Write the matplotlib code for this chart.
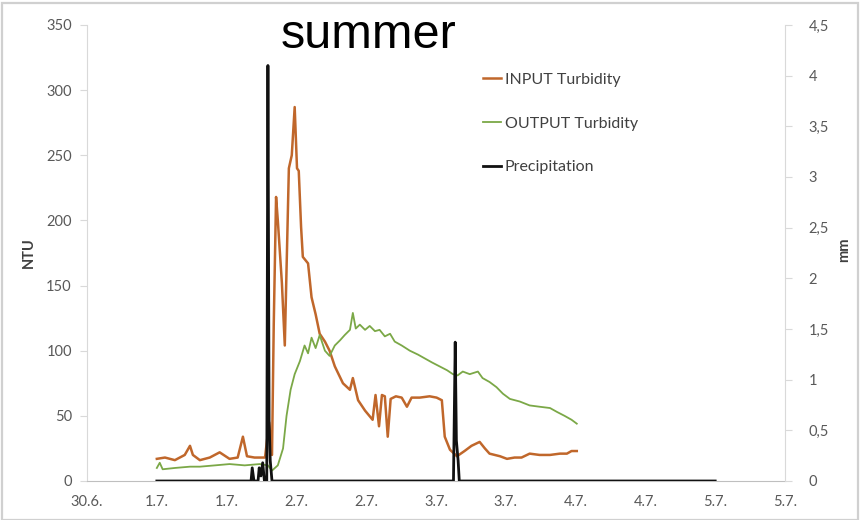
import matplotlib
matplotlib.use("Agg")
import matplotlib.pyplot as plt
from matplotlib.patches import Rectangle

# Time axis: hours after 1.7. 00:00
input_hours = [0, 1.4, 3.1, 4.8, 5.7, 6.2, 7.4, 9.1, 10.8, 12.5, 13.9, 14.8, 15.5, 16.8,
               18.6, 19.3, 19.8, 20.1, 20.5, 20.8, 21.5, 22.0, 22.7, 23.2, 23.7, 24.1,
               24.4, 24.8, 25.1, 26.0, 26.6, 27.3, 28.0, 28.9, 29.7, 30.6, 32.0, 33.2,
               33.7, 34.6, 35.8, 37.1, 37.6, 38.2, 38.7, 39.2, 39.7, 40.2, 41.1, 42.1,
               43.0, 43.8, 45.2, 46.9, 48.1, 49.0, 49.5, 50.4, 51.6, 52.9, 54.1, 55.5,
               56.4, 57.2, 59.0, 60.2, 61.5, 62.7, 64.1, 65.8, 67.6, 69.3, 70.5, 71.3, 72.2]
input_ntu = [17, 18, 16, 20, 27, 20, 16, 18, 22, 17, 18, 34, 19, 18,
             18, 45, 20, 120, 218, 200, 152, 104, 240, 250, 287, 240,
             238, 195, 172, 167, 141, 128, 113, 107, 100, 88, 75, 70,
             79, 62, 54, 47, 66, 42, 66, 65, 34, 63, 65, 64,
             57, 64, 64, 65, 64, 62, 34, 24, 19, 23, 27, 30,
             25, 21, 19, 17, 18, 18, 21, 20, 20, 21, 21, 23, 23]

output_hours = [0, 0.5, 1.0, 3.1, 5.7, 7.4, 10.0, 12.5, 15.1, 17.7, 19.1, 19.8, 20.8,
                21.7, 22.3, 23.0, 23.7, 24.6, 25.4, 26.0, 26.6, 27.3, 28.0, 28.9, 29.7,
                30.6, 31.5, 32.3, 33.2, 33.7, 34.2, 34.9, 35.8, 36.6, 37.5, 38.3, 39.2,
                40.1, 40.9, 42.1, 43.5, 44.9, 46.1, 47.3, 48.6, 49.9, 50.9, 51.7, 52.6,
                53.8, 55.2, 56.0, 57.2, 58.4, 59.5, 60.7, 62.4, 64.1, 65.8, 67.6, 68.8,
                70.1, 71.3, 72.2]
output_ntu = [10, 14, 9, 10, 11, 11, 12, 13, 12, 13, 12, 8, 12,
              25, 50, 70, 82, 92, 104, 98, 110, 102, 112, 100, 96,
              104, 108, 112, 116, 129, 117, 120, 116, 119, 115, 116, 111,
              113, 107, 104, 100, 97, 94, 91, 88, 85, 82, 81, 84,
              82, 84, 79, 76, 72, 67, 63, 61, 58, 57, 56, 53,
              50, 47, 44]

precip_hours = [0, 16.2, 16.4, 16.7, 17.4, 17.6, 17.9, 18.2, 18.5, 18.9, 19.1, 19.3,
                19.5, 19.8, 51.0, 51.3, 51.5, 51.8, 52.0, 96]
precip_mm = [0, 0, 0.13, 0, 0, 0.13, 0.05, 0.18, 0, 0, 4.1, 0.6,
             0.2, 0, 0, 1.37, 0.4, 0.2, 0, 0]

x_ticks = [-12, 0, 12, 24, 36, 48, 60, 72, 84, 96, 108]
x_labels = ["30.6.", "1.7.", "1.7.", "2.7.", "2.7.", "3.7.", "3.7.", "4.7.", "4.7.", "5.7.", "5.7."]
ntu_ticks = [0, 50, 100, 150, 200, 250, 300, 350]
mm_ticks = [0, 0.5, 1, 1.5, 2, 2.5, 3, 3.5, 4, 4.5]

plt.rcParams["font.family"] = ["Lato", "DejaVu Sans"]
label_color = "#595959"
axis_color = "#D9D9D9"

fig = plt.figure(figsize=(8.6, 5.2), dpi=100)
fig.patch.set_facecolor("white")
fig.patches.append(Rectangle((0.002, 0.0), 0.996, 0.994, transform=fig.transFigure,
                             fill=False, edgecolor="#D0D0D0", linewidth=1.6))

ax = fig.add_axes([0.1012, 0.075, 0.8116, 0.877])
ax2 = ax.twinx()

l1, = ax.plot(input_hours, input_ntu, color="#C0672B", linewidth=1.8, label="INPUT Turbidity")
l2, = ax.plot(output_hours, output_ntu, color="#7BA847", linewidth=1.3, label="OUTPUT Turbidity")
l3, = ax2.plot(precip_hours, precip_mm, color="#111111", linewidth=2.0, label="Precipitation")

ax.set_xlim(-12, 108)
ax.set_ylim(0, 350)
ax2.set_ylim(0, 4.5)

ax.set_xticks(x_ticks)
ax.set_xticklabels(x_labels)
ax.set_yticks(ntu_ticks)
ax.set_yticklabels([str(v) for v in ntu_ticks])
ax2.set_yticks(mm_ticks)
ax2.set_yticklabels([("%g" % v).replace(".", ",") for v in mm_ticks])

for a in (ax, ax2):
    for s in a.spines.values():
        s.set_visible(False)
ax.spines["left"].set_visible(True)
ax.spines["left"].set_color(axis_color)
ax.spines["bottom"].set_visible(True)
ax.spines["bottom"].set_color("#BFBFBF")
ax2.spines["right"].set_visible(True)
ax2.spines["right"].set_color(axis_color)

ax.tick_params(axis="x", length=0, pad=10, labelsize=10.5, labelcolor=label_color)
ax.tick_params(axis="y", length=5, color=axis_color, pad=6, labelsize=10.5, labelcolor=label_color)
ax2.tick_params(axis="y", length=5, color=axis_color, pad=12, labelsize=10.5, labelcolor=label_color)

fig.text(0.033, 0.515, "NTU", rotation=90, ha="center", va="center",
         fontsize=10.5, fontweight="bold", color="#404040")
fig.text(0.982, 0.52, "mm", rotation=90, ha="center", va="center",
         fontsize=10.5, fontweight="bold", color="#404040")

fig.text(0.429, 0.932, "summer", ha="center", va="center",
         fontsize=35, color="black", family=["Liberation Sans", "DejaVu Sans"])

leg = ax.legend(handles=[l1, l2, l3], loc="upper left", bbox_to_anchor=(0.5616, 0.860),
                bbox_transform=fig.transFigure, borderaxespad=0, borderpad=0,
                frameon=False, fontsize=11.5, handlelength=1.1, handletextpad=0.25,
                labelspacing=1.85, labelcolor="#404040")

fig.savefig("out.png", dpi=100, facecolor="white")
